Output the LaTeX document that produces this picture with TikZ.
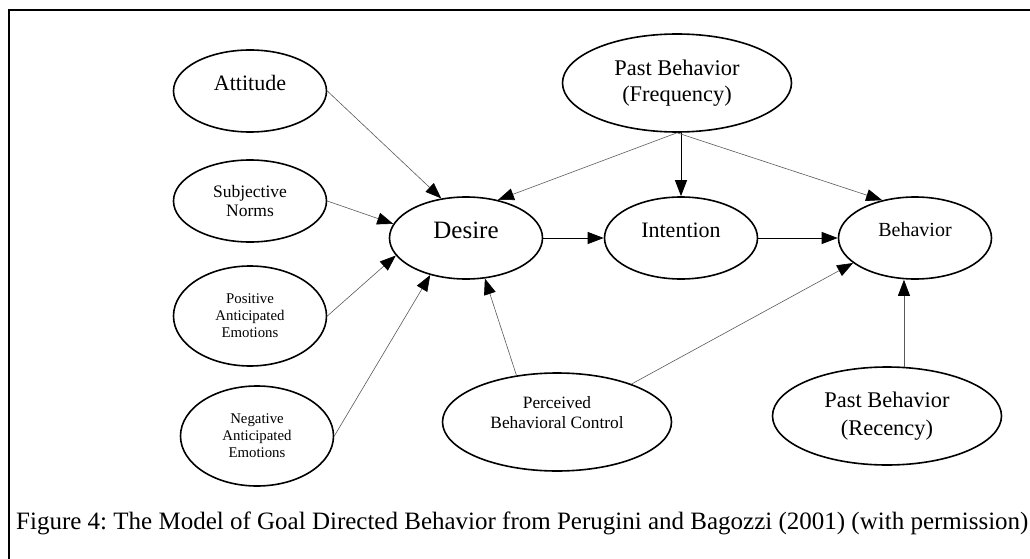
\documentclass[tikz,border=0pt]{standalone}
\usepackage{fontspec}
\setmainfont{Liberation Serif}
\usetikzlibrary{shapes.geometric,arrows.meta}
\frenchspacing

\begin{document}
\begin{tikzpicture}[x=1pt, y=-1pt,
		>={Triangle[length=16pt,width=12pt,color=black]},
		blob/.style={ellipse, draw=black, line width=1.6pt, inner sep=0pt,
			minimum width=153pt, minimum height=82pt, align=center},
		wideblob/.style={blob, minimum width=229pt, minimum height=98pt},
		lift/.style={text depth=16pt},
		link/.style={->, draw=black!65, line width=0.6pt},
		mainlink/.style={->, draw=black, line width=0.9pt}]
	\def\fsBig{\fontsize{22}{26}\selectfont}
	\def\fsMid{\fontsize{17.5}{19.5}\selectfont}
	\def\fsSmall{\fontsize{14.8}{17}\selectfont}
	
	\useasboundingbox (0,0) rectangle (1030,559);
	
	% Rahmen (nur oben und links sichtbar)
	\draw[line width=2pt] (1030,10) -- (9,10) -- (9,559);
	
	% Einflussgroessen links
	\node[blob, lift, font=\fsBig] (att) at (250,91) {Attitude};
	\node[blob, font=\fsMid] (subj) at (250,201) {Subjective\\Norms};
	\node[blob, minimum height=100pt, font=\fsSmall] (pos) at (250,316)
		{Positive\\Anticipated\\Emotions};
	\node[blob, minimum height=100pt, font=\fsSmall] (neg) at (257,436)
		{Negative\\Anticipated\\Emotions};
	
	% Hauptkette
	\node[blob, lift, font=\fontsize{25}{29}\selectfont] (desire) at (466,238) {Desire};
	\node[blob, lift, font=\fsBig] (intent) at (681,238) {Intention};
	\node[blob, lift, font=\fontsize{20}{24}\selectfont] (behav) at (915,238) {Behavior};
	
	% Vergangenes Verhalten und Kontrolle
	\node[wideblob, font=\fontsize{22.4}{26}\selectfont] (freq) at (677,83)
		{Past Behavior\\(Frequency)};
	\node[wideblob, font=\fontsize{22.4}{28}\selectfont] (rec) at (887,416)
		{Past Behavior\\(Recency)};
	\node[wideblob, text depth=20pt, font=\fontsize{17.3}{20}\selectfont] (pbc) at (557,422)
		{Perceived\\Behavioral Control};
	
	% Pfeile zu Desire
	\draw[link] (att.east) -- (desire.122);
	\draw[link] (subj.east) -- (desire.169);
	\draw[link] (pos.east) -- (desire.194);
	\draw[link] (neg.east) -- (desire.226);
	\draw[link] (pbc.131) -- (desire.295);
	\draw[link] (freq.south) -- (desire.50);
	
	% Pfeile zu Intention und Behavior
	\draw[mainlink] (intent.north |- freq.south) -- (intent.north);
	\draw[link] (freq.south) -- (behav.131);
	\draw[mainlink] (desire.east) -- (intent.west);
	\draw[mainlink] (intent.east) -- (behav.west);
	\draw[link] (pbc.27) -- (behav.202);
	\draw[link] (rec.71) -- (rec.71 |- behav.south);
	
	% Bildunterschrift
	\node[anchor=base west, inner sep=0pt, font=\fontsize{25}{29}\selectfont] (caption) at (16,529)
		{Figure 4: The Model of Goal Directed Behavior from Perugini and Bagozzi (2001) (with permission)};
\end{tikzpicture}
\end{document}
